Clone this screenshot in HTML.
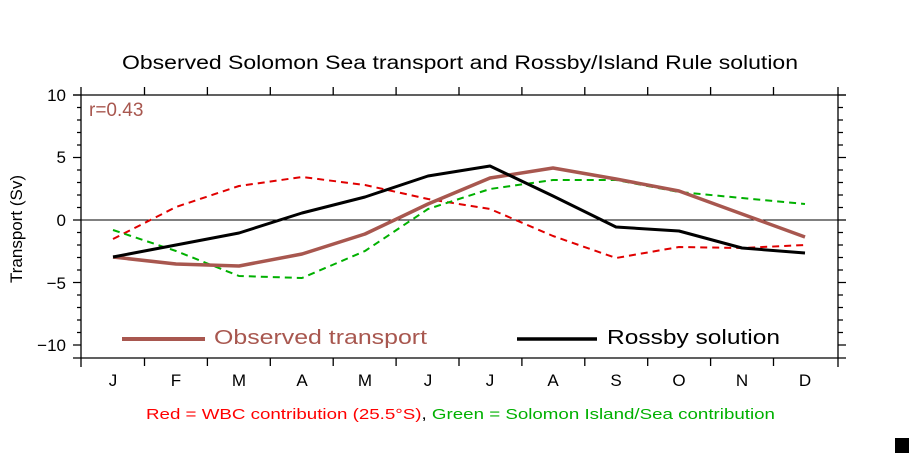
<!DOCTYPE html>
<html><head><meta charset="utf-8"><style>
html,body{margin:0;padding:0;background:#fff;}
svg{display:block;font-family:"Liberation Sans",sans-serif;}
</style></head><body>
<svg width="910" height="454" viewBox="0 0 910 454" xmlns="http://www.w3.org/2000/svg">
<rect width="910" height="454" fill="#fff"/>
<text x="122" y="69" font-size="19" textLength="676" lengthAdjust="spacingAndGlyphs" fill="#000">Observed Solomon Sea transport and Rossby/Island Rule solution</text>
<g stroke="#000" stroke-width="1.3" fill="none">
<line x1="73" y1="95" x2="846" y2="95"/>
<line x1="73" y1="358" x2="846" y2="358"/>
<line x1="81" y1="87" x2="81" y2="367"/>
<line x1="838" y1="87" x2="838" y2="367"/>
<line x1="81" y1="220" x2="838" y2="220" stroke-width="1"/>
<g id="ticks">
<path d="M73 95H81M73 157.5H81M73 220H81M73 282.5H81M73 345H81
M77 107.5H81M77 120H81M77 132.5H81M77 145H81M77 170H81M77 182.5H81M77 195H81M77 207.5H81
M77 232.5H81M77 245H81M77 257.5H81M77 270H81M77 295H81M77 307.5H81M77 320H81M77 332.5H81"/>
<path d="M838 95H846M838 157.5H846M838 220H846M838 282.5H846M838 345H846
M838 107.5H843M838 120H843M838 132.5H843M838 145H843M838 170H843M838 182.5H843M838 195H843M838 207.5H843
M838 232.5H843M838 245H843M838 257.5H843M838 270H843M838 295H843M838 307.5H843M838 320H843M838 332.5H843"/>
<path d="M144.5 95V87M207.4 95V87M270.3 95V87M333.2 95V87M396.1 95V87M459 95V87M521.9 95V87M584.8 95V87M647.7 95V87M710.6 95V87M773.5 95V87
M144.5 358V366M207.4 358V366M270.3 358V366M333.2 358V366M396.1 358V366M459 358V366M521.9 358V366M584.8 358V366M647.7 358V366M710.6 358V366M773.5 358V366"/>
</g>
</g>
<g font-size="17" fill="#000" text-anchor="end">
<text x="66" y="101">10</text><text x="66" y="163">5</text><text x="66" y="226">0</text><text x="66" y="289">−5</text><text x="66" y="351">−10</text>
</g>
<g font-size="17" fill="#000" text-anchor="middle">
<text x="113" y="386">J</text><text x="176" y="386">F</text><text x="239" y="386">M</text><text x="302" y="386">A</text><text x="365" y="386">M</text><text x="428" y="386">J</text><text x="490" y="386">J</text><text x="553" y="386">A</text><text x="616" y="386">S</text><text x="679" y="386">O</text><text x="742" y="386">N</text><text x="805" y="386">D</text>
</g>
<text transform="translate(22,229) rotate(-90)" font-size="17" text-anchor="middle" fill="#000">Transport (Sv)</text>
<text x="89" y="116" font-size="19" fill="#a8574f">r=0.43</text>
<g fill="none" stroke-linejoin="round">
<polyline stroke="#e00000" stroke-width="2" stroke-dasharray="7,5" points="113,239 176,207 239,186 302,177 365,185 428,199 490,209 553,236 616,258 679,247 742,248 805,245"/>
<polyline stroke="#00b000" stroke-width="2" stroke-dasharray="7,5" points="113,230 176,251 239,276 302,278 365,251 428,209 490,189 553,180 616,180 679,192 742,198 805,204"/>
<polyline stroke="#a8574f" stroke-width="3.5" points="113,257 176,264 239,266 302,254 365,234 428,204 490,178 553,168 616,179 679,191 742,214 805,237"/>
<polyline stroke="#000" stroke-width="3" points="113,257 176,245 239,233 302,213 365,197 428,176 490,166 553,196 616,227 679,231 742,248 805,253"/>
<line x1="122" y1="339" x2="205" y2="339" stroke="#a8574f" stroke-width="4"/>
<line x1="517" y1="339" x2="597" y2="339" stroke="#000" stroke-width="3.5"/>
</g>
<text x="214" y="344" font-size="20" textLength="213" lengthAdjust="spacingAndGlyphs" fill="#a8574f">Observed transport</text>
<text x="607" y="344" font-size="20" textLength="173" lengthAdjust="spacingAndGlyphs" fill="#000">Rossby solution</text>
<text x="146" y="419" font-size="15" textLength="629" lengthAdjust="spacingAndGlyphs"><tspan fill="#ff0000">Red = WBC contribution (25.5°S)</tspan><tspan fill="#000">, </tspan><tspan fill="#00b000">Green = Solomon Island/Sea contribution</tspan></text>
<rect x="895" y="438" width="14" height="15" fill="#000"/>
</svg>
</body></html>
